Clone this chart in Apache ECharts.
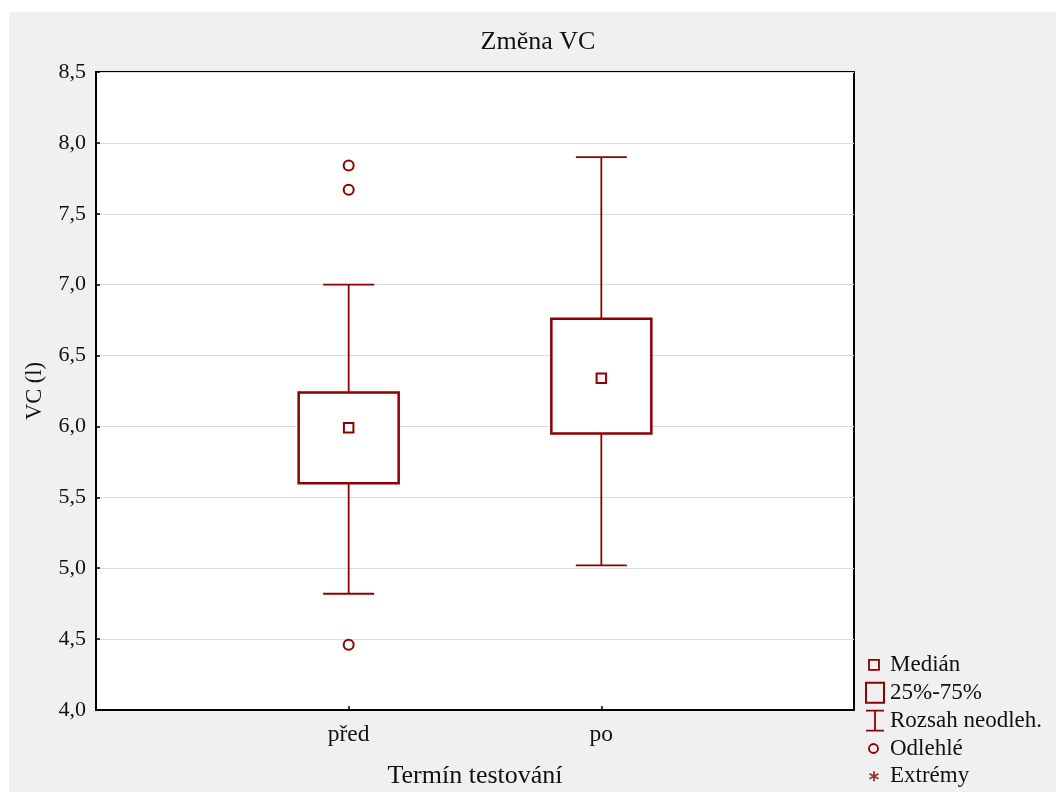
<!DOCTYPE html>
<html>
<head>
<meta charset="utf-8">
<script src="https://cdn.jsdelivr.net/npm/echarts@6/dist/echarts.min.js"></script>
<style>
  html, body { margin: 0; padding: 0; background: #fff; }
  #chart { position: absolute; left: 9px; top: 12px; width: 1047px; height: 780px; background: #f0f0f0; }
</style>
</head>
<body>
<div id="chart"></div>
<script>
// data
const categories = ['před', 'po']
const whiskerLow = [4.82, 5.02]
const q1 = [5.60, 5.95]
const median = [5.99, 6.34]
const q3 = [6.24, 6.76]
const whiskerHigh = [7.00, 7.90]
const outlierCat = ['před', 'před', 'před']
const outlierVal = [7.84, 7.67, 4.46]
const yTicks = ['4,0', '4,5', '5,0', '5,5', '6,0', '6,5', '7,0', '7,5', '8,0', '8,5']

const RED = '#8b0000'
const FONT = 'Liberation Serif'

// padded x axis: empty slot at each end, so the boxes sit at 1/3 and 2/3
const xCats = [''].concat(categories, [''])
const boxData = categories.map((c, i) => [c, whiskerLow[i], q1[i], median[i], q3[i], whiskerHigh[i]])

const myChart = echarts.init(document.getElementById('chart'))

const option = {
  animation: false,
  title: {
    text: 'Změna VC',
    left: 529,
    top: 17,
    padding: 0,
    textAlign: 'center',
    textStyle: { fontFamily: FONT, fontSize: 26, fontWeight: 'normal', color: '#111' }
  },
  legend: {
    orient: 'vertical',
    left: 855,
    top: 641,
    padding: 0,
    itemWidth: 20,
    itemHeight: 22,
    itemGap: 4,
    selectedMode: false,
    textStyle: { fontFamily: FONT, fontSize: 23, color: '#111' },
    data: [
      { name: 'Medián', icon: 'path://M0,0M20,22M4,6h10v10h-10Z' },
      { name: '25%-75%', icon: 'path://M0,0M20,22M1,1h18v20h-18Z', itemStyle: { borderWidth: 2 } },
      { name: 'Rozsah neodleh.', icon: 'path://M0,0M20,22M1,1h18M10,1v20M1,21h18' },
      { name: 'Odlehlé', icon: 'path://M0,0M20,22M4,11a4.5,4.5 0 1,0 9,0a4.5,4.5 0 1,0 -9,0' },
      { name: 'Extrémy', icon: 'path://M0,0M20,22M9,6v10M4.5,8.5l9,5M4.5,13.5l9,-5' }
    ].map(d => Object.assign({}, d, {
      itemStyle: Object.assign({ color: 'transparent', borderColor: RED, borderWidth: 1.8 }, d.itemStyle)
    }))
  },
  grid: {
    left: 87,
    right: 202,
    top: 60,
    bottom: 82,
    outerBoundsMode: 'none',
    show: true,
    backgroundColor: '#fff',
    borderColor: '#000',
    borderWidth: 2
  },
  xAxis: {
    type: 'category',
    data: xCats,
    boundaryGap: false,
    name: 'Termín testování',
    nameLocation: 'middle',
    nameGap: 53,
    nameTextStyle: { fontFamily: FONT, fontSize: 26, color: '#111' },
    axisLine: { lineStyle: { color: '#000', width: 2 } },
    axisTick: { inside: true, length: 4, interval: (i, v) => v !== '', lineStyle: { color: '#000', width: 1.5 } },
    axisLabel: { interval: 0, margin: 13, fontFamily: FONT, fontSize: 23.5, color: '#111' },
    splitLine: { show: false }
  },
  yAxis: {
    type: 'value',
    min: 4,
    max: 8.5,
    interval: 0.5,
    name: 'VC (l)',
    nameLocation: 'middle',
    nameGap: 49,
    nameTextStyle: { fontFamily: FONT, fontSize: 22.5, color: '#111' },
    axisLine: { show: true, lineStyle: { color: '#000', width: 2 } },
    axisTick: { show: true, inside: true, length: 4, lineStyle: { color: '#000', width: 1.5 } },
    axisLabel: {
      margin: 10,
      fontFamily: FONT,
      fontSize: 22,
      color: '#111',
      formatter: v => yTicks[Math.round((v - 4) / 0.5)]
    },
    splitLine: { lineStyle: { color: '#dcdcdc', width: 1 } }
  },
  series: [
    {
      name: 'Rozsah neodleh.',
      type: 'custom',
      data: boxData,
      encode: { x: 0, y: [1, 2, 3, 4, 5] },
      z: 2,
      renderItem: (params, api) => {
        const x = api.value(0)
        const lo = api.coord([x, api.value(1)])
        const bq1 = api.coord([x, api.value(2)])
        const bq3 = api.coord([x, api.value(4)])
        const hi = api.coord([x, api.value(5)])
        const cap = 25.5
        const style = { stroke: RED, lineWidth: 1.8, fill: null }
        return {
          type: 'group',
          children: [
            { type: 'line', shape: { x1: lo[0], y1: lo[1], x2: bq1[0], y2: bq1[1] }, style },
            { type: 'line', shape: { x1: hi[0], y1: hi[1], x2: bq3[0], y2: bq3[1] }, style },
            { type: 'line', shape: { x1: lo[0] - cap, y1: lo[1], x2: lo[0] + cap, y2: lo[1] }, style },
            { type: 'line', shape: { x1: hi[0] - cap, y1: hi[1], x2: hi[0] + cap, y2: hi[1] }, style }
          ]
        }
      }
    },
    {
      name: '25%-75%',
      type: 'custom',
      data: boxData,
      encode: { x: 0, y: [1, 2, 3, 4, 5] },
      z: 3,
      renderItem: (params, api) => {
        const x = api.value(0)
        const top = api.coord([x, api.value(4)])
        const bot = api.coord([x, api.value(2)])
        const w = 100
        return {
          type: 'rect',
          shape: { x: top[0] - w / 2, y: top[1], width: w, height: bot[1] - top[1] },
          style: { fill: '#fff', stroke: RED, lineWidth: 2.5 }
        }
      }
    },
    {
      name: 'Medián',
      type: 'scatter',
      z: 4,
      symbol: 'rect',
      symbolSize: 9.5,
      itemStyle: { color: '#fff', borderColor: RED, borderWidth: 2, opacity: 1 },
      data: categories.map((c, i) => [c, median[i]])
    },
    {
      name: 'Odlehlé',
      type: 'scatter',
      z: 4,
      symbol: 'circle',
      symbolSize: 10,
      itemStyle: { color: '#fff', borderColor: RED, borderWidth: 2, opacity: 1 },
      data: outlierCat.map((c, i) => [c, outlierVal[i]])
    },
    {
      name: 'Extrémy',
      type: 'scatter',
      symbol: 'path://M5,0v10M0.5,2.5l9,5M0.5,7.5l9,-5',
      itemStyle: { color: RED },
      data: []
    }
  ]
}

myChart.setOption(option)

window.addEventListener('resize', () => {
  myChart.resize()
})
</script>
</body>
</html>
